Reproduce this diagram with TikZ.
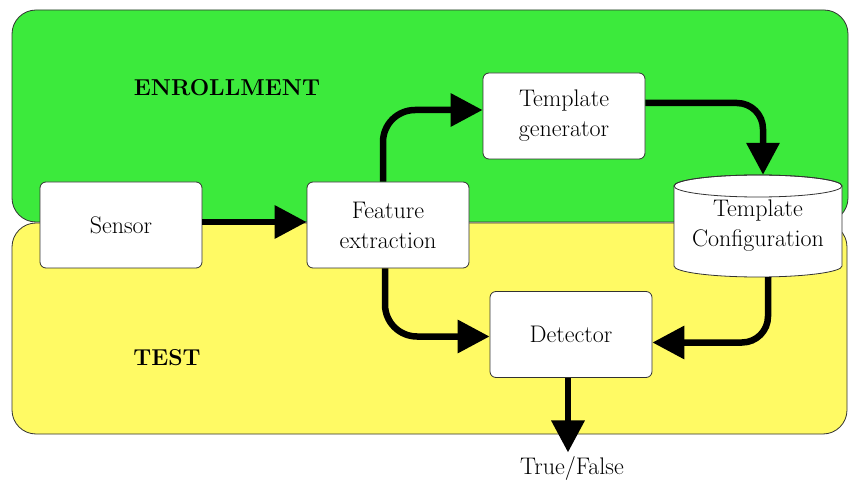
\documentclass[tikz,border=0pt]{standalone}
\usetikzlibrary{arrows.meta,positioning,calc}
\definecolor{enrollgreen}{RGB}{60,234,60}
\definecolor{testyellow}{RGB}{255,250,100}
\definecolor{edge}{RGB}{50,50,50}
\tikzset{
  every picture/.style={font=\rmfamily\fontsize{24}{30}\selectfont},
  region/.style={draw=edge,line width=0.8pt,rounded corners=24pt},
  block/.style={draw=edge,fill=white,line width=0.8pt,rounded corners=6pt,
    minimum width=162pt,minimum height=86pt,align=center,inner sep=0pt},
  flow/.style={line width=6.5pt,-{Triangle[length=32pt,width=32pt]}},
  tag/.style={font=\rmfamily\bfseries\fontsize{23}{30}\selectfont},
}

\begin{document}
\begin{tikzpicture}[x=1pt,y=1pt]
  \useasboundingbox (0,0) rectangle (849,-481);
  \fill[white] (0,0) rectangle (849,-481);
  % the two phases
  \draw[region,fill=enrollgreen] (12,-10) rectangle (848,-222);
  \draw[region,fill=testyellow] (12,-223) rectangle (847,-434);
  \node[tag] (enroll) at (227,-88) {ENROLLMENT};
  \node[tag] (test) at (167,-358) {TEST};
  % blocks
  \node[block] (sensor) at (121,-225) {Sensor};
  \node[block] (feat) at (388,-225) {Feature\\extraction};
  \node[block] (gen) at (564,-116) {Template\\generator};
  \node[block] (det) at (571,-334.5) {Detector};
  % template store
  \draw[edge,fill=white,line width=0.8pt] (674,-186) -- (674,-266)
    arc[start angle=180,end angle=360,x radius=84pt,y radius=11pt]
    -- (842,-186)
    arc[start angle=0,end angle=180,x radius=84pt,y radius=11pt] -- cycle;
  \draw[edge,line width=0.8pt] (758,-186) ellipse[x radius=84pt,y radius=11pt];
  \node[minimum width=168pt,minimum height=102pt,inner sep=0pt,align=center]
    (conf) at (758,-226) {Template\\Configuration};
  \node (out) at (572,-468) {True/False};
  % connectors
  \draw[flow] ([yshift=3pt]sensor.east) -- ([yshift=3pt]feat.west);
  \draw[flow,rounded corners=32pt] ([xshift=-5pt]feat.north) |- ([yshift=6pt]gen.west);
  \draw[flow,rounded corners=26pt] ([yshift=13pt]gen.east) -| ([xshift=5pt]conf.north);
  \draw[flow,rounded corners=32pt] ([xshift=-3pt]feat.south) |- ([yshift=-2pt]det.west);
  \draw[flow,rounded corners=26pt] ([xshift=10pt]conf.south) |- ([yshift=-8pt]det.east);
  \draw[flow] ([xshift=-3pt]det.south) -- ([xshift=-3pt]det.south |- out.north);
\end{tikzpicture}
\end{document}
